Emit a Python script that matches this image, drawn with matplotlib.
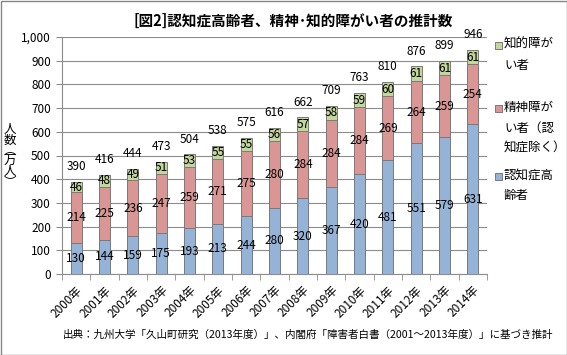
import numpy as np
import matplotlib
matplotlib.use("Agg")
import matplotlib.pyplot as plt
from matplotlib.patches import Rectangle
from matplotlib.ticker import FuncFormatter

plt.rcParams['font.family'] = ['Noto Sans CJK JP', 'DejaVu Sans']

YEARS = [f"{y}年" for y in range(2000, 2015)]
DEMENTIA = [130, 144, 159, 175, 193, 213, 244, 280, 320, 367, 420, 481, 551, 579, 631]
MENTAL = [214, 225, 236, 247, 259, 271, 275, 280, 284, 284, 284, 269, 264, 259, 254]
INTELLECTUAL = [46, 48, 49, 51, 53, 55, 55, 56, 57, 58, 59, 60, 61, 61, 61]
TOTALS = [390, 416, 444, 473, 504, 538, 575, 616, 662, 709, 763, 810, 876, 899, 946]

SERIES_NAMES = ["認知症高\n齢者", "精神障が\nい者（認\n知症除く）", "知的障が\nい者"]
COLORS = ["#95B3D7", "#D99694", "#C3D69B"]
EDGE = "#7a7a7a"
GRID = "#8c8c8c"

W, H = 567, 355
fig = plt.figure(figsize=(W / 100, H / 100), dpi=100)

# plot area in pixels: x 62..487, y 37..274 (from top)
ax = fig.add_axes([62 / W, 1 - 274 / H, (487 - 62) / W, (274 - 37) / H])

x = np.arange(len(YEARS))
dem = np.array(DEMENTIA)
men = np.array(MENTAL)
intel = np.array(INTELLECTUAL)

bw = 0.39
b1 = ax.bar(x, dem, width=bw, color=COLORS[0], edgecolor=EDGE, linewidth=0.7, zorder=3)
b2 = ax.bar(x, men, width=bw, bottom=dem, color=COLORS[1], edgecolor=EDGE, linewidth=0.7, zorder=3)
b3 = ax.bar(x, intel, width=bw, bottom=dem + men, color=COLORS[2], edgecolor=EDGE, linewidth=0.7, zorder=3)

for cont in (b1, b2, b3):
    ax.bar_label(cont, label_type="center", fontsize=8.5, color="black")

tops = dem + men + intel
for xi, top, tot in zip(x, tops, TOTALS):
    ax.annotate(str(tot), (xi, top), xytext=(0, 11), textcoords="offset points",
                ha="center", va="center", fontsize=8.5)

ax.set_xlim(-0.5, len(YEARS) - 0.5)
ax.set_ylim(0, 1000)
ax.set_yticks(np.arange(0, 1001, 100))
ax.yaxis.set_major_formatter(FuncFormatter(lambda v, p: f"{int(v):,}"))
ax.yaxis.grid(True, color=GRID, linewidth=0.8, zorder=0)
ax.set_axisbelow(True)

ax.set_xticks(x)
ax.set_xticklabels(YEARS, rotation=45, ha="right", rotation_mode="anchor")
ax.set_xticks(np.arange(-0.5, len(YEARS)), minor=True)
ax.tick_params(axis="x", which="major", length=0, pad=7, labelsize=8.5)
ax.tick_params(axis="x", which="minor", length=4, color=GRID)
ax.tick_params(axis="y", length=4, color=GRID, pad=4, labelsize=8.5)

for s in ("top", "right"):
    ax.spines[s].set_visible(False)
for s in ("left", "bottom"):
    ax.spines[s].set_color(GRID)
    ax.spines[s].set_linewidth(0.8)

# title, y-label, source
fig.text(293 / W, 1 - 21 / H, "[図2]認知症高齢者、精神･知的障がい者の推計数",
         ha="center", va="center", fontsize=10.5, fontweight="bold")
fig.text(10 / W, 1 - 156 / H, "人\n数\n︵\n万\n人\n︶", ha="center", va="center",
         fontsize=9, linespacing=0.75)
fig.text(63 / W, 1 - 335 / H,
         "出典：九州大学「久山町研究（2013年度）」、内閣府「障害者白書（2001～2013年度）」に基づき推計",
         ha="left", va="center", fontsize=7.6)

# legend (top to bottom: 知的, 精神, 認知症)
legend_rows = [(2, 45), (1, 108), (0, 176)]
for idx, ytop in legend_rows:
    fig.patches.append(Rectangle((495 / W, 1 - (ytop + 3.5) / H), 7 / W, 7 / H,
                                 transform=fig.transFigure, facecolor=COLORS[idx],
                                 edgecolor=EDGE, linewidth=0.7))
    fig.text(504 / W, 1 - (ytop - 7) / H, SERIES_NAMES[idx], ha="left", va="top",
             fontsize=9, linespacing=1.75)

fig.patches.append(Rectangle((0.5 / W, 0.5 / H), (W - 1) / W, (H - 1) / H,
                             transform=fig.transFigure, fill=False,
                             edgecolor="#868686", linewidth=1))

fig.savefig("out.png", dpi=100)
